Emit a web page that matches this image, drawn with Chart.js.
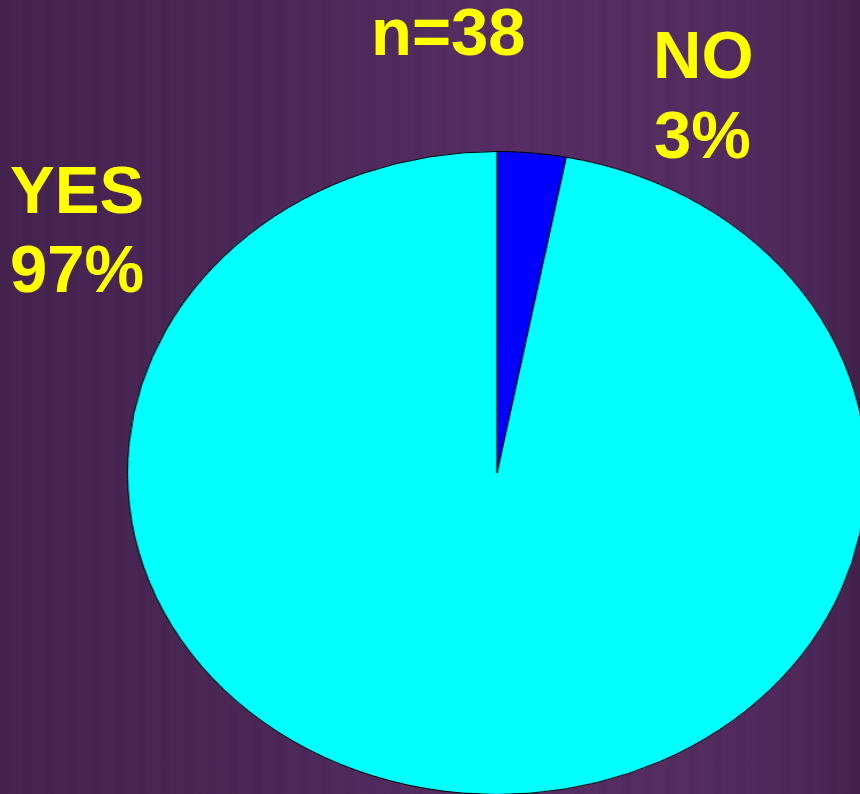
<!DOCTYPE html>
<html>
<head>
<meta charset="utf-8">
<script src="https://cdn.jsdelivr.net/npm/chart.js@4/dist/chart.umd.min.js"></script>
<style>
  html, body {
    margin: 0;
    width: 860px;
    height: 794px;
    overflow: hidden;
  }
  body {
    position: relative;
    background: linear-gradient(90deg, #44224e 0%, #4a2656 30%, #552c62 58%, #532b60 80%, #4b2657 95%, #42204b 100%);
    font-family: "Liberation Sans", Arial, sans-serif;
  }
  .stripes {
    position: absolute;
    inset: 0;
    background: repeating-linear-gradient(90deg, rgba(0,0,0,0.012) 0px, rgba(0,0,0,0.012) 9px, rgba(255,255,255,0.006) 9px, rgba(255,255,255,0.006) 23px);
  }
  #pieBox {
    position: absolute;
    left: 174.5px;
    top: 151px;
    width: 644px;
    height: 644px;
    transform: scaleX(1.1495);
    transform-origin: center center;
  }
  .lbl {
    position: absolute;
    color: #ffff00;
    font-weight: bold;
    font-size: 67px;
    line-height: 67px;
    white-space: nowrap;
  }
</style>
</head>
<body>
<div class="stripes"></div>
<div id="pieBox"><canvas id="pie"></canvas></div>
<div class="lbl" id="nLabel" style="left:371px; top:-2px;"></div>
<div class="lbl" id="noName" style="left:653px; top:21px;"></div>
<div class="lbl" id="noPct" style="left:654px; top:101px;"></div>
<div class="lbl" id="yesName" style="left:10px; top:156px;"></div>
<div class="lbl" id="yesPct" style="left:10px; top:235px;"></div>
<script>
const labels = ["NO", "YES"];
const percents = [3, 97];
const sliceColors = ["#0000ff", "#00ffff"];
const sampleSize = 38;

document.getElementById("nLabel").textContent = "n=" + sampleSize;
document.getElementById("noName").textContent = labels[0];
document.getElementById("noPct").textContent = percents[0] + "%";
document.getElementById("yesName").textContent = labels[1];
document.getElementById("yesPct").textContent = percents[1] + "%";

const data = {
  labels: labels,
  datasets: [
    {
      data: percents,
      backgroundColor: sliceColors,
      borderColor: "#000000",
      borderWidth: 1,
      hoverOffset: 0,
    },
  ],
};

const config = {
  type: "pie",
  data: data,
  options: {
    responsive: true,
    maintainAspectRatio: false,
    animation: false,
    events: [],
    layout: { padding: 0 },
    plugins: {
      legend: { display: false },
      tooltip: { enabled: false },
    },
  },
};

new Chart(document.getElementById("pie"), config);
</script>
</body>
</html>
